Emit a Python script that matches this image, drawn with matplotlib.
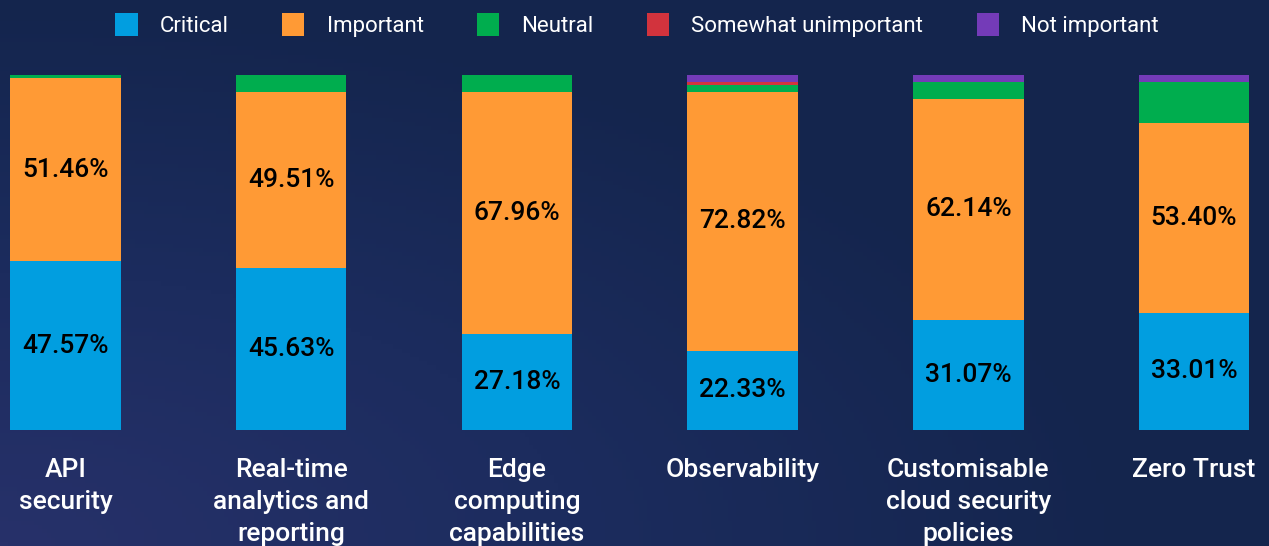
"""
Importance of security capabilities - stacked 100% bars on a dark navy background.
"""
import numpy as np
import matplotlib
matplotlib.use('Agg')  # headless
import matplotlib.pyplot as plt
from matplotlib.patches import Patch
from matplotlib.colors import LinearSegmentedColormap

plt.rcParams['font.family'] = ['Roboto', 'DejaVu Sans']

# dados (percentagens)
categories = ["API\nsecurity", "Real-time\nanalytics and\nreporting", "Edge\ncomputing\ncapabilities",
              "Observability", "Customisable\ncloud security\npolicies", "Zero Trust"]
critical = [47.57, 45.63, 27.18, 22.33, 31.07, 33.01]
important = [51.46, 49.51, 67.96, 72.82, 62.14, 53.40]
neutral = [0.97, 4.85, 4.85, 1.94, 4.85, 11.65]
somewhat_unimportant = [0.00, 0.00, 0.00, 0.97, 0.00, 0.00]
not_important = [0.00, 0.00, 0.00, 1.94, 1.94, 1.94]

series_names = ["Critical", "Important", "Neutral", "Somewhat unimportant", "Not important"]
colors = ["#019EE0", "#FF9A35", "#00AD4E", "#D2333D", "#743BB8"]

W, H = 1269, 546
fig = plt.figure(figsize=(W / 100, H / 100), dpi=100)

# fundo em degradê
bg = fig.add_axes([0, 0, 1, 1], zorder=0)
gx, gy = np.meshgrid(np.linspace(0, 1, 300), np.linspace(0, 1, 130))
glow = np.clip(1 - np.sqrt((gx / 0.9) ** 2 + ((1 - gy) / 1.0) ** 2), 0, 1)  # canto inferior esquerdo
cmap = LinearSegmentedColormap.from_list("bg", ["#14254D", "#1C2C5E", "#27316A"])
bg.imshow(glow, cmap=cmap, aspect='auto', extent=[0, 1, 0, 1], vmin=0, vmax=1)
bg.set_axis_off()

# eixo das barras
ax = fig.add_axes([0, 116 / H, 1, 355 / H], zorder=1)
ax.patch.set_alpha(0)
x = np.arange(len(categories))
width = 0.49

stack = [critical, important, neutral, somewhat_unimportant, not_important]
bottom = np.zeros(len(categories))
for vals, name, col in zip(stack, series_names, colors):
    vals = np.array(vals)
    ax.bar(x, vals, width, bottom=bottom, color=col, label=name, linewidth=0)
    if name in ("Critical", "Important"):
        for xi, b, v in zip(x, bottom, vals):
            ax.text(xi, b + v / 2, f"{v:.2f}%", ha='center', va='center',
                    fontsize=19, fontweight='medium', color='black')
    bottom += vals

ax.set_xlim(-0.29, 5.332)
ax.set_ylim(0, 100)
ax.set_axis_off()

for xi, cat in zip(x, categories):
    ax.text(xi, -8.0, cat, ha='center', va='top', fontsize=19, color='white',
            linespacing=1.4, fontweight='medium', clip_on=False)

handles = [Patch(facecolor=c, edgecolor='none') for c in colors]
leg = fig.legend(handles, series_names, loc='upper center', bbox_to_anchor=(0.502, 1.012),
                 ncol=5, frameon=False, fontsize=16, labelcolor='white',
                 handlelength=1.0, handleheight=1.15, handletextpad=1.0, columnspacing=2.4)

fig.savefig("out.png", dpi=100, facecolor=fig.get_facecolor())
